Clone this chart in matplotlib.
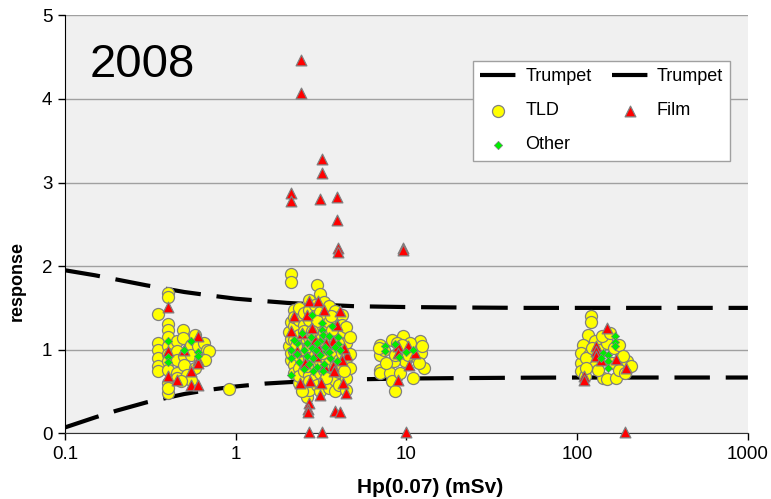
from matplotlib import pyplot as plt

# trumpet curves
trumpet_x = [0.1, 0.15, 0.2, 0.3, 0.5, 0.7, 1, 1.5, 2, 3, 5, 7, 10, 20, 50, 100, 200, 500, 1000]
trumpet_hi = [1.95, 1.89, 1.84, 1.77, 1.69, 1.65, 1.61, 1.58, 1.56, 1.54, 1.52, 1.515, 1.51,
              1.505, 1.50, 1.50, 1.50, 1.50, 1.50]
trumpet_lo = [0.07, 0.19, 0.27, 0.37, 0.47, 0.52, 0.56, 0.595, 0.61, 0.63, 0.645, 0.65, 0.655,
              0.66, 0.665, 0.667, 0.667, 0.667, 0.667]

# TLD
tld_x = [0.40, 0.40, 0.35, 0.40, 0.40, 0.40, 0.35, 0.35, 0.35, 0.35, 0.35, 0.40, 0.40, 0.40,
         0.40, 0.40, 0.40, 0.40, 0.45, 0.45, 0.45, 0.45, 0.45, 0.49, 0.49, 0.50, 0.50, 0.52,
         0.55, 0.55, 0.58, 0.58, 0.60, 0.62, 0.65, 0.68, 0.70, 0.66, 0.55, 0.48, 0.91,
         2.05, 2.05,
         2.1, 2.1, 2.1, 2.1, 2.1, 2.1,
         2.2, 2.2, 2.2, 2.2, 2.2, 2.2, 2.2,
         2.35, 2.35, 2.35, 2.35, 2.35, 2.35, 2.35, 2.35,
         2.5, 2.5, 2.5, 2.5, 2.5, 2.5, 2.5,
         2.6, 2.6,
         2.7, 2.7, 2.7, 2.7, 2.7, 2.7, 2.7, 2.7, 2.7,
         2.9, 2.9, 2.9, 2.9, 2.9, 2.9, 2.9,
         3.0, 3.0, 3.0,
         3.1, 3.1, 3.1, 3.1, 3.1, 3.1, 3.1,
         3.3, 3.3, 3.3, 3.3, 3.3, 3.3, 3.3,
         3.5, 3.5, 3.5, 3.5, 3.5, 3.5, 3.5,
         3.8, 3.8, 3.8, 3.8, 3.8, 3.8, 3.8,
         4.05, 4.05, 4.05, 4.05, 4.05, 4.05,
         4.2, 4.2, 4.2, 4.2,
         4.4, 4.4, 4.4, 4.4, 4.4,
         4.65, 4.65, 4.65,
         2.25, 2.6, 3.0, 3.4, 3.65, 3.95, 4.3, 2.45, 2.8, 3.2, 3.6,
         9.6, 7.0, 12.0, 7.0, 7.0, 7.0, 8.0, 8.2, 8.6, 12.6, 10.9, 11.2, 8.2, 8.8, 10.5, 11.6,
         12.2, 9.8, 8.4, 7.6, 9.2, 7.4, 10.2, 11.8, 6.9, 9.4, 12.4, 8.6,
         120, 120, 115, 108, 106, 106, 111, 142, 149, 170, 128, 106, 118, 125, 112, 135, 150,
         165, 175, 195, 206, 185, 160, 175, 132, 112, 140, 155, 122, 190]
tld_y = [1.68, 1.63, 1.43, 1.31, 1.23, 1.15, 1.08, 1.00, 0.90, 0.80, 0.74, 1.04, 0.95, 0.86,
         0.76, 0.60, 0.48, 0.54, 1.10, 0.98, 0.88, 0.72, 0.66, 1.24, 1.14, 0.92, 0.82, 0.70,
         1.06, 0.94, 1.18, 0.78, 1.04, 0.88, 1.08, 1.00, 0.98, 0.88, 0.64, 0.62, 0.53,
         1.04, 1.21,
         1.91, 1.81, 1.33, 1.13, 0.88, 0.96,
         1.47, 1.28, 1.12, 0.98, 0.82, 0.72, 1.39,
         1.50, 1.36, 1.18, 1.05, 0.93, 0.78, 0.60, 0.68,
         1.44, 1.30, 1.22, 0.99, 0.86, 0.74, 0.55,
         0.43, 1.12,
         1.60, 1.48, 1.35, 1.15, 1.02, 0.90, 0.70, 0.52, 0.62,
         1.54, 1.40, 1.26, 1.08, 0.94, 0.80, 0.66,
         1.77, 1.19, 0.58,
         1.67, 1.45, 1.30, 1.00, 0.86, 0.72, 0.50,
         1.57, 1.38, 1.21, 1.10, 0.91, 0.76, 0.62,
         1.52, 1.33, 1.16, 0.98, 0.84, 0.54, 0.68,
         1.46, 1.25, 1.12, 0.95, 0.80, 0.64, 0.50,
         1.39, 1.20, 1.03, 0.88, 0.73, 0.58,
         1.42, 1.30, 0.96, 0.82,
         1.27, 1.08, 0.90, 0.66, 0.52,
         0.95, 1.15, 0.78,
         1.05, 0.80, 1.34, 0.66, 1.24, 1.08, 0.74, 0.50, 1.22, 0.96, 1.40,
         1.16, 1.06, 1.10, 0.94, 0.76, 0.72, 0.72, 0.62, 0.51, 0.78, 0.66, 1.00, 1.12, 1.08,
         1.08, 0.90, 0.96, 0.86, 0.86, 0.84, 0.72, 1.00, 0.94, 0.84, 1.02, 1.06, 1.04, 0.94,
         1.40, 1.33, 1.18, 1.06, 0.84, 0.74, 0.68, 0.66, 0.65, 0.66, 1.10, 0.96, 0.94, 0.86,
         0.90, 1.00, 1.08, 1.02, 1.06, 0.86, 0.80, 0.92, 0.84, 0.76, 0.76, 0.78, 1.16, 1.20,
         1.02, 0.72]

# Film
film_x = [0.40, 0.60, 0.50, 0.40, 0.60, 0.60, 0.55, 0.40, 0.45, 0.55, 0.60,
          2.69, 3.05, 4.1, 2.1, 2.46, 2.78, 3.7, 4.5, 4.2, 3.4, 3.05, 2.54, 3.7, 2.37, 2.71,
          3.17, 4.25, 3.12, 4.4, 3.75, 3.3, 2.95, 2.2, 3.9, 2.6, 3.3, 2.9, 4.3, 2.3,
          2.69, 2.66, 2.66, 3.81, 4.1,
          2.4, 2.4, 3.2, 3.2, 2.1, 2.1, 3.1, 3.92, 3.92, 4.0, 4.0, 9.6, 9.6,
          2.69, 3.2, 10.0, 190,
          8.9, 8.9, 10.2, 11.2, 10.4, 8.9,
          149, 129, 129, 129, 138, 170, 192, 110, 110]
film_y = [1.51, 1.16, 1.00, 0.98, 0.88, 0.84, 0.74, 0.68, 0.64, 0.58, 0.58,
          1.58, 1.58, 1.46, 1.22, 1.20, 1.26, 1.10, 0.94, 0.88, 1.08, 1.02, 0.84, 0.80, 0.60,
          0.62, 0.60, 0.60, 0.46, 0.48, 0.75, 0.80, 0.93, 1.40, 1.30, 1.42, 1.48, 1.12, 1.02,
          0.98,
          0.36, 0.29, 0.26, 0.27, 0.25,
          4.47, 4.07, 3.28, 3.11, 2.88, 2.78, 2.80, 2.83, 2.55, 2.22, 2.17, 2.22, 2.19,
          0.02, 0.02, 0.02, 0.01,
          1.04, 0.96, 1.04, 0.96, 0.82, 0.64,
          1.26, 1.04, 0.98, 0.92, 0.88, 0.89, 0.78, 0.68, 0.64]

# Other
other_x = [0.40, 0.55, 0.50, 0.60, 0.40, 0.40, 0.60,
           2.8, 3.2, 3.2, 3.25, 2.1, 2.1, 2.1, 2.3, 2.5, 2.6, 2.8, 3.1, 3.5, 4.0, 4.0, 4.1,
           3.8, 3.4, 3.1, 2.85, 2.6, 2.3, 2.35, 2.7, 3.0, 3.3, 3.55, 3.9, 2.85, 2.5, 3.25,
           3.5, 2.95, 2.75, 3.35, 2.45, 3.65, 3.0, 2.2,
           7.5, 8.6, 10.0, 11.0, 9.1, 7.5,
           166, 166, 166, 142, 152, 152, 152, 138]
other_y = [1.10, 1.10, 1.00, 0.97, 0.91, 0.85, 0.93,
           1.42, 1.32, 1.24, 1.18, 1.00, 0.90, 0.70, 1.08, 1.00, 1.08, 1.02, 1.10, 1.16, 1.15,
           1.07, 1.00, 1.03, 0.98, 0.94, 0.90, 0.92, 0.95, 0.85, 0.83, 0.79, 0.83, 0.90, 0.86,
           0.75, 0.77, 0.74, 0.97, 1.00, 1.15, 1.03, 1.20, 1.28, 1.08, 1.12,
           1.04, 1.07, 0.97, 1.00, 0.91, 0.98,
           1.16, 1.09, 1.04, 0.96, 0.94, 0.86, 0.78, 0.90]

plt.rcParams['font.family'] = ['Liberation Sans', 'DejaVu Sans']

fig = plt.figure(figsize=(7.71, 4.99), dpi=100)
ax = fig.add_axes([0.0843, 0.1317, 0.8857, 0.8376])
ax.set_facecolor('#f0f0f0')

l1, = ax.plot(trumpet_x, trumpet_hi, color='black', lw=3, dashes=(8.5, 3.8), label='Trumpet', zorder=2)
l2, = ax.plot(trumpet_x, trumpet_lo, color='black', lw=3, dashes=(8.5, 3.8), label='Trumpet', zorder=2)
s_tld = ax.scatter(tld_x, tld_y, s=75, marker='o', facecolor='#ffff00', edgecolor='#808080',
                   linewidth=0.9, label='TLD', zorder=3, clip_on=False)
s_film = ax.scatter(film_x, film_y, s=60, marker='^', facecolor='#ff0000', edgecolor='#808080',
                    linewidth=0.9, label='Film', zorder=4, clip_on=False)
s_oth = ax.scatter(other_x, other_y, s=18, marker='D', facecolor='#00ee00', edgecolor='#808080',
                   linewidth=0.5, label='Other', zorder=5, clip_on=False)

ax.set_xscale('log')
ax.set_xlim(0.1, 1000)
ax.set_ylim(0, 5)
ax.set_xticks([0.1, 1, 10, 100, 1000])
ax.set_xticklabels(['0.1', '1', '10', '100', '1000'])
ax.minorticks_off()
ax.set_yticks([0, 1, 2, 3, 4, 5])
ax.yaxis.grid(True, color='#a0a0a0', lw=1)
ax.set_axisbelow(True)
ax.tick_params(labelsize=13.5, length=5, width=1, direction='out', pad=4)

for side in ['top', 'right']:
    ax.spines[side].set_visible(False)
ax.spines['left'].set_color('black')
ax.spines['bottom'].set_color('#333333')

ax.set_xlabel('Hp(0.07) (mSv)', fontsize=15, fontweight='bold')
ax.xaxis.set_label_coords(0.534, -0.107)
ax.set_ylabel('response', fontsize=13, fontweight='bold')
ax.yaxis.set_label_coords(-0.058, 0.364)

ax.text(0.0356, 0.881, '2008', transform=ax.transAxes, fontsize=34, ha='left', va='center')

# column-wise order so rows read: Trumpet Trumpet / TLD Film / Other
leg = ax.legend([l1, s_tld, s_oth, l2, s_film], ['Trumpet', 'TLD', 'Other', 'Trumpet', 'Film'],
                ncol=2, loc='upper right', bbox_to_anchor=(0.974, 0.891),
                borderaxespad=0, fontsize=13, frameon=True, fancybox=False,
                edgecolor='#a0a0a0', facecolor='white', framealpha=1,
                handlelength=2.0, handletextpad=0.5, columnspacing=1.1, labelspacing=0.95,
                scatterpoints=1)
leg.get_frame().set_linewidth(1)

plt.savefig('out.png', dpi=100)
